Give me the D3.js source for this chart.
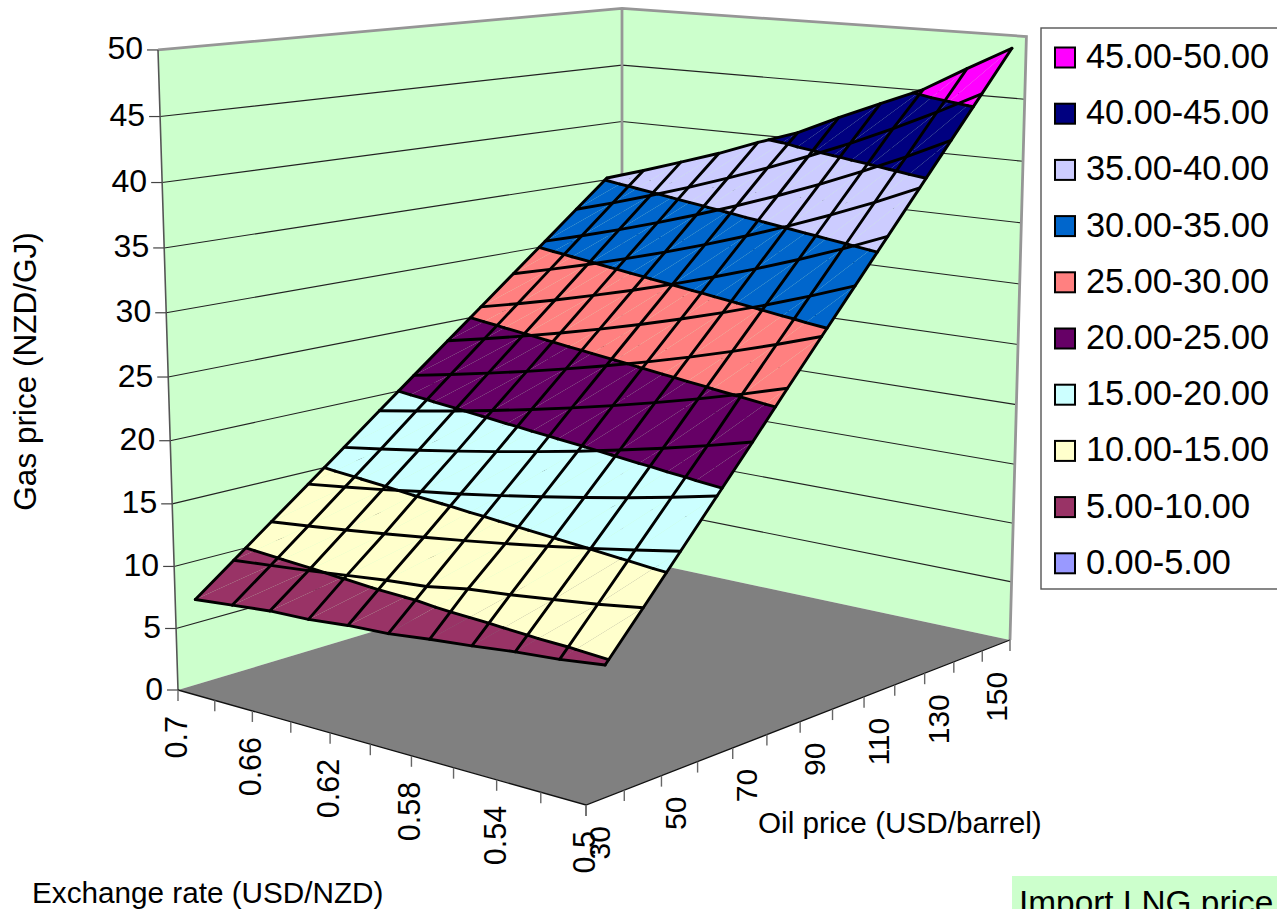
<!DOCTYPE html>
<html>
<head>
<meta charset="utf-8">
<script src="https://cdn.jsdelivr.net/npm/d3@7"></script>
<style>
html, body { margin: 0; padding: 0; background: #fff; overflow: hidden; }
text { font-family: "Liberation Sans", Arial, sans-serif; fill: #000; }
</style>
</head>
<body>
<script>
// Values
var oilPrices = [30, 40, 50, 60, 70, 80, 90, 100, 110, 120, 130, 140, 150];
var exchangeRates = [0.7, 0.68, 0.66, 0.64, 0.62, 0.6, 0.58, 0.56, 0.54, 0.52, 0.5];
var oilTickLabels = ["30", "50", "70", "90", "110", "130", "150"];
var rateTickLabels = ["0.7", "0.66", "0.62", "0.58", "0.54", "0.5"];
var gasTicks = [0, 5, 10, 15, 20, 25, 30, 35, 40, 45, 50];

// one row per oil price, one column per exchange rate
var gasPrices = [
    [6.9, 7.2, 7.5, 7.6, 7.9, 8.05, 8.4, 8.7, 9.05, 9.3, 9.7],
    [9.25, 9.55, 9.85, 10.2, 10.55, 10.8, 11.35, 11.65, 12.05, 12.45, 12.95],
    [11.6, 11.94, 12.3, 12.69, 13.1, 13.53, 14, 14.5, 15.04, 15.62, 16.24],
    [13.95, 14.36, 14.8, 15.3, 15.75, 16.28, 16.84, 17.44, 18.08, 18.78, 19.53],
    [16.3, 16.78, 17.29, 17.83, 18.4, 19.02, 19.67, 20.38, 21.13, 21.94, 22.82],
    [18.7, 19.25, 19.83, 20.45, 21.11, 21.82, 22.57, 23.38, 24.24, 25.17, 26.18],
    [21.05, 21.67, 22.33, 23.02, 23.77, 24.56, 25.41, 26.31, 27.29, 28.34, 29.47],
    [23.4, 24.09, 24.82, 25.6, 26.42, 27.3, 28.24, 29.25, 30.33, 31.5, 32.76],
    [25.75, 26.51, 27.31, 28.17, 29.07, 30.04, 31.08, 32.19, 33.38, 34.66, 36.05],
    [28.1, 28.93, 29.8, 30.74, 31.72, 32.78, 33.91, 35.13, 36.43, 37.83, 39.34],
    [30.45, 31.35, 32.3, 33.31, 34.38, 35.53, 36.75, 38.06, 39.47, 40.99, 42.63],
    [32.8, 33.76, 34.79, 35.88, 37.03, 38.27, 39.59, 41, 42.52, 44.16, 45.92],
    [35.15, 36.18, 37.28, 38.4, 39.68, 40.85, 42.42, 43.9, 45.35, 47.32, 49.21]
];

var bandLabels = ["45.00-50.00", "40.00-45.00", "35.00-40.00", "30.00-35.00", "25.00-30.00",
    "20.00-25.00", "15.00-20.00", "10.00-15.00", "5.00-10.00", "0.00-5.00"];
var bandColors = ["#FF00FF", "#000080", "#CCCCFF", "#0066CC", "#FF8080",
    "#660066", "#CCFFFF", "#FFFFCC", "#993366", "#9999FF"];
var bandLows = [45, 40, 35, 30, 25, 20, 15, 10, 5, 0];
var bandStep = 5;

var width = 1277, height = 909;

var svg = d3.select("body").append("svg")
    .attr("width", width)
    .attr("height", height)
    .style("display", "block");

// Scales into the unit cube of the chart box
var oilScale = d3.scaleBand().domain(oilPrices).range([0, 1]);
var rateScale = d3.scalePoint().domain(exchangeRates).range([0, 1]);
var gasScale = d3.scaleLinear().domain([0, 50]).range([0, 1]);

// Camera: perspective map of the unit cube onto the page
function project(u, v, w) {
    var den = 1 + 0.17002 * u - 0.10841 * v - 0.0431 * w;
    return [
        (178 + 549.75 * u + 344.47 * v - 26.8 * w) / den,
        (690 - 38.3 * u + 27.73 * v - 642.2 * w) / den
    ];
}

var openLine = d3.line();
var closedLine = d3.line().curve(d3.curveLinearClosed);

// --- walls and floor ---
var box = svg.append("g");
function face(corners, color) {
    box.append("path").attr("d", closedLine(corners)).attr("fill", color);
}
face([project(0, 0, 0), project(1, 0, 0), project(1, 0, 1), project(0, 0, 1)], "#CCFFCC");
face([project(1, 0, 0), project(1, 1, 0), project(1, 1, 1), project(1, 0, 1)], "#CCFFCC");
face([project(0, 0, 0), project(0, 1, 0), project(1, 1, 0), project(1, 0, 0)], "#808080");

// gridlines on both walls
gasTicks.slice(1, -1).forEach(function (g) {
    var w = gasScale(g);
    box.append("path")
        .attr("d", openLine([project(0, 0, w), project(1, 0, w), project(1, 1, w)]))
        .attr("fill", "none")
        .attr("stroke", "#222")
        .attr("stroke-width", 1.1);
});

// wall frame
box.append("path")
    .attr("d", openLine([project(0, 0, 1), project(1, 0, 1), project(1, 1, 1), project(1, 1, 0)]))
    .attr("fill", "none").attr("stroke", "#969696").attr("stroke-width", 2.8);
box.append("path")
    .attr("d", openLine([project(1, 0, 1), project(1, 0, 0)]))
    .attr("fill", "none").attr("stroke", "#969696").attr("stroke-width", 2.8);
box.append("path")
    .attr("d", openLine([project(0, 0, 0), project(0, 0, 1)]))
    .attr("fill", "none").attr("stroke", "#555").attr("stroke-width", 1.6);
box.append("path")
    .attr("d", openLine([project(0, 0, 0), project(0, 1, 0), project(1, 1, 0)]))
    .attr("fill", "none").attr("stroke", "#111").attr("stroke-width", 1.3);

// --- surface ---
function surfacePoint(p) {
    return project(p.u, p.v, gasScale(p.z));
}

function clipBand(poly, level, keepBelow) {
    var out = [];
    poly.forEach(function (p, i) {
        var q = poly[(i + 1) % poly.length];
        var pIn = keepBelow ? p.z <= level : p.z >= level;
        var qIn = keepBelow ? q.z <= level : q.z >= level;
        if (pIn) out.push(p);
        if (pIn !== qIn) {
            var t = (level - p.z) / (q.z - p.z);
            out.push({ u: p.u + t * (q.u - p.u), v: p.v + t * (q.v - p.v), z: level });
        }
    });
    return out;
}

var triangles = [];
var gridPoint = function (i, j) {
    return {
        u: oilScale(oilPrices[i]) + oilScale.bandwidth() / 2,
        v: rateScale(exchangeRates[j]),
        z: gasPrices[i][j]
    };
};
// Each cell is two triangles, split on the shallow diagonal
d3.range(oilPrices.length - 1).forEach(function (i) {
    d3.range(exchangeRates.length - 1).forEach(function (j) {
        var a = gridPoint(i, j), b = gridPoint(i, j + 1),
            c = gridPoint(i + 1, j + 1), d = gridPoint(i + 1, j);
        triangles.push([a, b, c]);
        triangles.push([a, c, d]);
    });
});

var surface = svg.append("g");

triangles.forEach(function (tri) {
    bandLows.forEach(function (lo, k) {
        var poly = clipBand(clipBand(tri, lo, false), lo + bandStep, true);
        if (poly.length < 3) return;
        surface.append("path")
            .attr("d", closedLine(poly.map(surfacePoint)))
            .attr("fill", bandColors[k]);
    });
});

// band boundaries
var contourSegments = [];
triangles.forEach(function (tri) {
    bandLows.forEach(function (lo) {
        if (lo === 0) return;
        var pts = [];
        tri.forEach(function (p, i) {
            var q = tri[(i + 1) % 3];
            if ((p.z < lo) !== (q.z < lo)) {
                var t = (lo - p.z) / (q.z - p.z);
                pts.push({ u: p.u + t * (q.u - p.u), v: p.v + t * (q.v - p.v), z: lo });
            }
        });
        if (pts.length === 2) contourSegments.push(pts.map(surfacePoint));
    });
});

surface.selectAll(".contour")
    .data(contourSegments)
    .join("path")
    .attr("class", "contour")
    .attr("d", openLine)
    .attr("fill", "none")
    .attr("stroke", "#000")
    .attr("stroke-width", 2.9)
    .attr("stroke-linecap", "round");

// wires
var wires = [];
oilPrices.forEach(function (o, i) {
    wires.push(exchangeRates.map(function (r, j) { return surfacePoint(gridPoint(i, j)); }));
});
exchangeRates.forEach(function (r, j) {
    wires.push(oilPrices.map(function (o, i) { return surfacePoint(gridPoint(i, j)); }));
});
surface.selectAll(".wire")
    .data(wires)
    .join("path")
    .attr("class", "wire")
    .attr("d", openLine)
    .attr("fill", "none")
    .attr("stroke", "#000")
    .attr("stroke-width", 2.9)
    .attr("stroke-linejoin", "round")
    .attr("stroke-linecap", "round");

// --- axes ---
var axes = svg.append("g");
var tickLen = 11;

function vTick(p) {
    axes.append("line")
        .attr("x1", p[0]).attr("y1", p[1])
        .attr("x2", p[0]).attr("y2", p[1] + tickLen)
        .attr("stroke", "#666")
        .attr("stroke-width", 1.4);
}

// gas price axis
gasTicks.forEach(function (g) {
    var p = project(0, 0, gasScale(g));
    axes.append("line")
        .attr("x1", p[0] - 11).attr("y1", p[1])
        .attr("x2", p[0]).attr("y2", p[1])
        .attr("stroke", "#444")
        .attr("stroke-width", 1.2);
    axes.append("text")
        .attr("x", p[0] - 15)
        .attr("y", p[1] + 9.5)
        .attr("text-anchor", "end")
        .attr("font-size", 32)
        .text(g);
});

// exchange rate axis
exchangeRates.forEach(function (r) {
    vTick(project(0, rateScale(r), 0));
});
rateTickLabels.forEach(function (label) {
    var p = project(0, rateScale(+label), 0);
    axes.append("text")
        .attr("transform", "translate(" + (p[0] + 9) + "," + (p[1] + 26) + ") rotate(-90)")
        .attr("text-anchor", "end")
        .attr("font-size", 30.5)
        .text(label);
});

// oil price axis, ticks sit on the band edges
oilPrices.forEach(function (o) {
    vTick(project(oilScale(o), 1, 0));
});
vTick(project(1, 1, 0));
oilTickLabels.forEach(function (label) {
    var p = project(oilScale(+label), 1, 0);
    axes.append("text")
        .attr("transform", "translate(" + (p[0] + 24.5) + "," + (p[1] + 21) + ") rotate(-90)")
        .attr("text-anchor", "end")
        .attr("font-size", 30)
        .text(label);
});

// axis titles
svg.append("text")
    .attr("transform", "translate(36,371.5) rotate(-90)")
    .attr("text-anchor", "middle")
    .attr("font-size", 31.5)
    .text("Gas price (NZD/GJ)");
svg.append("text")
    .attr("x", 32).attr("y", 903)
    .attr("font-size", 29.7)
    .text("Exchange rate (USD/NZD)");
svg.append("text")
    .attr("x", 758).attr("y", 833)
    .attr("font-size", 29.7)
    .text("Oil price (USD/barrel)");

// --- legend ---
var legend = svg.append("g");
legend.append("rect")
    .attr("x", 1041).attr("y", 28)
    .attr("width", 260).attr("height", 561)
    .attr("fill", "#fff")
    .attr("stroke", "#555")
    .attr("stroke-width", 1.4);
bandLabels.forEach(function (label, k) {
    var cy = 57.5 + k * 56.2;
    legend.append("rect")
        .attr("x", 1055).attr("y", cy - 10)
        .attr("width", 20).attr("height", 20)
        .attr("fill", bandColors[k])
        .attr("stroke", "#000")
        .attr("stroke-width", 2);
    legend.append("text")
        .attr("x", 1086).attr("y", cy + 10.5)
        .attr("font-size", 34.3)
        .text(label);
});

// note box cut off by the page edge
svg.append("rect")
    .attr("x", 1012).attr("y", 876)
    .attr("width", 265).attr("height", 33)
    .attr("fill", "#CCFFCC");
svg.append("text")
    .attr("x", 1019).attr("y", 914)
    .attr("font-size", 33.4)
    .text("Import LNG price");
</script>
</body>
</html>
